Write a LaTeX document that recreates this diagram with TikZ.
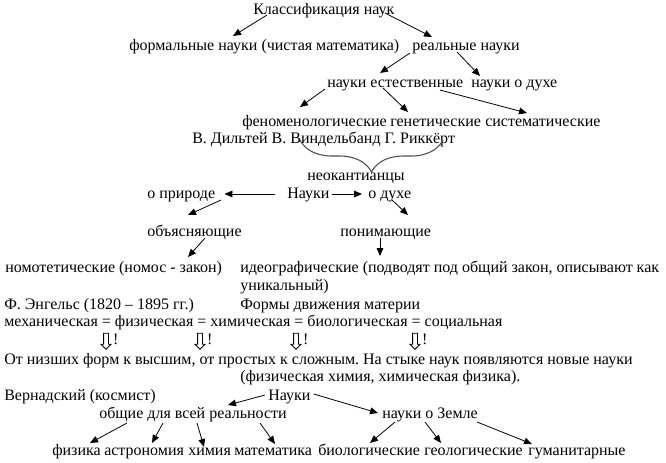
\documentclass[tikz,border=0pt]{standalone}
\usepackage{fontspec}
\setmainfont{Liberation Serif}
\usetikzlibrary{arrows.meta, calc, shapes.arrows, decorations.pathreplacing}
\frenchspacing

\begin{document}
\begin{tikzpicture}[
  x=0.75pt, y=-0.75pt,
  txt/.style={anchor=west, inner sep=0pt, text height=9pt, text depth=3pt, font=\fontsize{12}{13.5}\selectfont},
  arrow/.style={-{Triangle[length=6pt, width=5pt]}, line width=0.6pt},
  hollow/.style={single arrow, draw, shape border rotate=270, line width=0.6pt, minimum height=12pt, inner sep=1.5pt, single arrow head extend=1.9pt},
  bracket/.style={decorate, decoration={brace, mirror, amplitude=24pt}, draw=black!70, line width=0.8pt}
]
\useasboundingbox (0,0) rectangle (666,462);

% ------------------------------------------------------------
% Classification of sciences
% ------------------------------------------------------------

\node[txt] (klass) at (253,10) {Классификация наук};
\node[txt] (formal) at (129,46) {формальные науки (чистая математика)};
\node[txt] (real) at (412,46) {реальные науки};

\draw[arrow] ($(klass.west)+(14,5)$) -- ($(formal.west)+(104,-10)$);
\draw[arrow] ($(klass.west)+(132,3)$) -- ($(real.west)+(20,-9)$);

\node[txt] (natural) at (327,83) {науки естественные};
\node[txt] (spirit) at (471,83) {науки о духе};

\draw[arrow] ($(real.west)+(-2,7)$) -- ($(natural.west)+(53,-10)$);
\draw[arrow] ($(real.west)+(45,6)$) -- ($(spirit.west)+(9,-7)$);

\node[txt] (phenom) at (242,122) {феноменологические};
\node[txt] (genet) at (390,122) {генетические};
\node[txt] (system) at (485,122) {систематические};

\draw[arrow] ($(natural.west)+(-2,6)$) -- ($(phenom.west)+(58,-15)$);
\draw[arrow] ($(natural.west)+(56,5)$) -- ($(genet.west)+(18,-10)$);
\draw[arrow] ($(natural.west)+(113,7)$) -- ($(system.west)+(42,-9)$);

% ------------------------------------------------------------
% Neo-Kantians
% ------------------------------------------------------------

\node[txt] (dilthey) at (192,139) {В. Дильтей В. Виндельбанд Г. Риккёрт};
\node[txt] (neokant) at (307,176) {неокантианцы};

\draw[bracket] ($(dilthey.west)+(108,1)$) -- ($(dilthey.west)+(251,1)$);

\node[txt] (nature) at (147,194) {о природе};
\node[txt] (sciences) at (287,194) {Науки};
\node[txt] (mind) at (368,194) {о духе};

\draw[arrow] ($(sciences.west)+(-12,0)$) -- ($(nature.east)+(9,0)$);
\draw[arrow] ($(sciences.east)+(2,0)$) -- ($(mind.west)+(-6,0)$);

\node[txt] (explain) at (147,232) {объясняющие};
\node[txt] (understand) at (340,232) {понимающие};

\draw[arrow] ($(nature.west)+(74,6)$) -- ($(explain.west)+(41,-17)$);
\draw[arrow] ($(mind.west)+(24,6)$) -- ($(understand.west)+(68,-17)$);

\node[txt] (nomo) at (5,268) {номотетические (номос - закон)};
\node[txt] (ideo) at (240,268) {идеографические (подводят под общий закон, описывают как};
\node[txt] (ideob) at (240,286) {уникальный)};

\draw[arrow] ($(explain.west)+(58,6)$) -- ($(nomo.west)+(183,-11)$);
\draw[arrow] ($(understand.west)+(40,6)$) -- ($(ideo.west)+(140,-12)$);

% ------------------------------------------------------------
% Engels
% ------------------------------------------------------------

\node[txt] (engels) at (4,305) {Ф. Энгельс (1820 -- 1895 гг.)};
\node[txt] (forms) at (240,305) {Формы движения материи};
\node[txt] (chain) at (4,322) {механическая = физическая = химическая = биологическая = социальная};

\foreach \ax [count=\i] in {106,200,296,415}
  \node[hollow, label={[txt, label distance=3pt]right:!}] (down\i) at (\ax,340) {};

\node[txt] (lower) at (4,360) {От низших форм к высшим, от простых к сложным. На стыке наук появляются новые науки};
\node[txt] (junction) at (240,377) {(физическая химия, химическая физика).};

% ------------------------------------------------------------
% Vernadsky
% ------------------------------------------------------------

\node[txt] (vern) at (4,396) {Вернадский (космист)};
\node[txt] (sciencesb) at (268,396) {Науки};
\node[txt] (common) at (99,414) {общие для всей реальности};
\node[txt] (earth) at (382,414) {науки о Земле};

\draw[arrow] ($(sciencesb.west)+(-3,-1)$) -- ($(common.west)+(129,-9)$);
\draw[arrow] ($(sciencesb.east)+(3,-2)$) -- ($(earth.west)+(-4,-1)$);

\node[txt] (phys) at (52,451) {физика};
\node[txt] (astro) at (104,451) {астрономия};
\node[txt] (chem) at (188,451) {химия};
\node[txt] (math) at (234,451) {математика};
\node[txt] (bio) at (318,451) {биологические};
\node[txt] (geo) at (424,451) {геологические};
\node[txt] (human) at (528,451) {гуманитарные};

\draw[arrow] ($(common.west)+(28,9)$) -- ($(phys.west)+(38,-8)$);
\draw[arrow] ($(common.west)+(64,9)$) -- ($(astro.west)+(48,-8)$);
\draw[arrow] ($(common.west)+(98,9)$) -- ($(chem.west)+(16,-4)$);
\draw[arrow] ($(common.west)+(161,9)$) -- ($(math.west)+(41,-7)$);
\draw[arrow] ($(earth.west)+(13,8)$) -- ($(bio.west)+(52,-8)$);
\draw[arrow] ($(earth.west)+(43,8)$) -- ($(geo.west)+(17,-8)$);
\draw[arrow] ($(earth.west)+(95,8)$) -- ($(human.west)+(4,-7)$);

\end{tikzpicture}
\end{document}
